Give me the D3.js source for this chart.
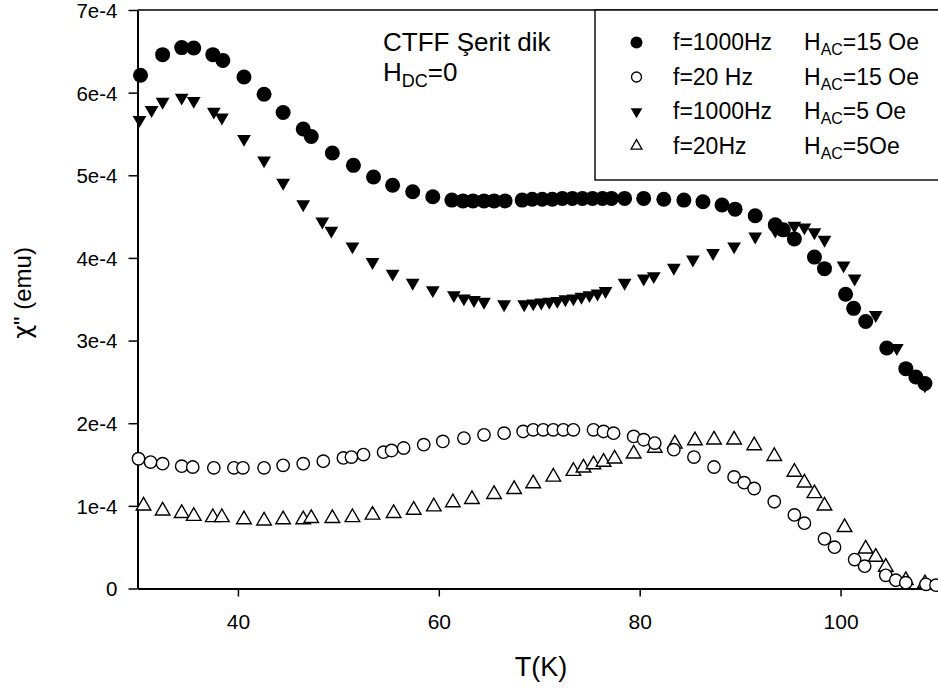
<!DOCTYPE html>
<html>
<head>
<meta charset="utf-8">
<script src="https://cdn.jsdelivr.net/npm/d3@7"></script>
<style>
  html, body { margin: 0; padding: 0; background: #fff; }
  svg { display: block; font-family: "Liberation Sans", Arial, sans-serif; }
</style>
</head>
<body>
<svg id="chart" width="938" height="693"></svg>
<script>
// ---- DATA (chi'' in units of 1e-4 emu) ----
const tA = [30.3, 32.5, 34.4, 35.6, 37.5, 38.5, 40.6, 42.6, 44.5, 46.5, 47.3, 49.4, 51.5, 53.5, 55.4, 57.4, 59.4,
  61.3, 62.4, 63.4, 64.5, 65.5, 66.6, 68.3, 69.3, 70.3, 71.3, 72.3, 73.3, 74.3, 75.3, 76.3, 77.2,
  78.5, 80.4, 82.4, 84.4, 86.3, 88.2, 89.5, 91.5, 93.5, 94.3, 95.4, 97.4, 98.4, 100.5, 101.3, 102.5, 104.6, 106.5, 107.5, 108.4];
const chiA = [6.21, 6.46, 6.545, 6.54, 6.46, 6.39, 6.19, 5.98, 5.76, 5.56, 5.47, 5.27, 5.12, 4.98, 4.88, 4.80, 4.74,
  4.70, 4.69, 4.69, 4.69, 4.69, 4.69, 4.70, 4.71, 4.71, 4.71, 4.72, 4.72, 4.72, 4.72, 4.72, 4.72,
  4.72, 4.72, 4.71, 4.70, 4.68, 4.64, 4.59, 4.51, 4.40, 4.34, 4.23, 4.01, 3.87, 3.56, 3.39, 3.23, 2.91, 2.66, 2.56, 2.48];

const tB = [30.1, 31.3, 32.5, 34.4, 35.5, 37.6, 39.6, 40.5, 42.6, 44.5, 46.5, 48.5, 50.5, 51.3, 52.5, 54.5, 55.3, 56.5,
  58.5, 60.4, 62.5, 64.5, 66.5, 68.4, 69.4, 70.4, 71.4, 72.4, 73.4, 75.4, 76.4, 77.4, 79.4, 80.4, 81.5, 83.4, 85.4,
  87.4, 89.4, 90.4, 91.4, 93.4, 95.4, 96.4, 98.4, 99.4, 101.4, 102.4, 104.5, 105.5, 106.5, 108.5, 109.5];
const chiB = [1.57, 1.53, 1.51, 1.48, 1.47, 1.46, 1.46, 1.46, 1.46, 1.49, 1.51, 1.54, 1.58, 1.59, 1.62, 1.65, 1.67, 1.70,
  1.74, 1.78, 1.82, 1.86, 1.88, 1.90, 1.92, 1.92, 1.92, 1.92, 1.92, 1.92, 1.90, 1.88, 1.84, 1.80, 1.76, 1.68, 1.59,
  1.47, 1.35, 1.28, 1.21, 1.05, 0.89, 0.79, 0.60, 0.50, 0.35, 0.27, 0.16, 0.10, 0.07, 0.05, 0.04];

const tC = [30.2, 31.4, 32.5, 34.4, 35.6, 37.6, 38.4, 40.6, 42.6, 44.5, 46.5, 48.4, 49.3, 51.4, 53.4, 55.4, 57.4, 59.4,
  61.5, 62.5, 63.5, 64.5, 66.5, 68.5, 69.4, 70.2, 71.0, 71.8, 72.6, 73.4, 74.2, 75.0, 75.8, 76.6,
  78.5, 80.4, 81.4, 83.4, 85.3, 87.3, 89.4, 91.5, 93.5, 95.4, 96.4, 97.4, 98.4, 100.3, 101.4, 103.5, 105.6, 108.4];
const chiC = [5.67, 5.79, 5.89, 5.94, 5.90, 5.77, 5.70, 5.44, 5.18, 4.91, 4.65, 4.44, 4.33, 4.14, 3.95, 3.81, 3.70, 3.61,
  3.55, 3.51, 3.49, 3.47, 3.44, 3.44, 3.45, 3.46, 3.47, 3.48, 3.50, 3.51, 3.53, 3.55, 3.57, 3.60,
  3.70, 3.75, 3.78, 3.88, 3.98, 4.06, 4.14, 4.26, 4.33, 4.39, 4.37, 4.31, 4.22, 3.91, 3.75, 3.31, 2.91, 2.46];

const tD = [30.6, 32.5, 34.4, 35.6, 37.5, 38.4, 40.6, 42.6, 44.5, 46.5, 47.3, 49.4, 51.4, 53.4, 55.5, 57.5, 59.5,
  61.4, 63.3, 65.5, 67.5, 69.4, 71.4, 73.4, 74.4, 75.4, 76.4, 77.5, 79.4, 81.5, 83.5, 85.5, 87.4, 89.4, 91.4,
  93.4, 95.4, 96.4, 97.4, 98.4, 100.4, 102.5, 103.5, 104.5, 106.5, 108.4];
const chiD = [1.00, 0.94, 0.91, 0.875, 0.86, 0.86, 0.835, 0.82, 0.835, 0.835, 0.85, 0.85, 0.86, 0.89, 0.91, 0.95, 0.99,
  1.04, 1.08, 1.14, 1.20, 1.27, 1.35, 1.42, 1.46, 1.50, 1.53, 1.57, 1.63, 1.70, 1.75, 1.79, 1.80, 1.80, 1.73,
  1.60, 1.41, 1.28, 1.15, 1.00, 0.74, 0.48, 0.38, 0.26, 0.10, 0.06];

const xTicks = [40, 60, 80, 100];
const yTicks = [0, 1, 2, 3, 4, 5, 6, 7];
const yTickLabels = ["0", "1e-4", "2e-4", "3e-4", "4e-4", "5e-4", "6e-4", "7e-4"];
const legendFreq = ["f=1000Hz", "f=20 Hz", "f=1000Hz", "f=20Hz"];
const legendField = ["=15 Oe", "=15 Oe", "=5 Oe", "=5Oe"];

// ---- LAYOUT ----
const svg = d3.select("#chart");
const L = 137.5, T = 10, B = 588.5, R = 941;
const x = d3.scaleLinear().domain([30, 110]).range([L, R]);
const y = d3.scaleLinear().domain([0, 7]).range([B, T]);

// frame lines (top and right)
svg.append("line").attr("x1", L).attr("x2", R).attr("y1", T).attr("y2", T)
  .attr("stroke", "#000").attr("stroke-width", 1.6);
svg.append("line").attr("x1", R).attr("x2", R).attr("y1", T).attr("y2", B)
  .attr("stroke", "#000").attr("stroke-width", 1.6);

// axes
const gx = svg.append("g").attr("transform", `translate(0,${B})`)
  .call(d3.axisBottom(x).tickValues(xTicks).tickSize(8).tickSizeOuter(0).tickFormat(d3.format("d")));
const gy = svg.append("g").attr("transform", `translate(${L},0)`)
  .call(d3.axisLeft(y).tickValues(yTicks).tickSize(9).tickSizeOuter(0).tickFormat((d, i) => yTickLabels[i]));
[gx, gy].forEach(g => {
  g.select(".domain").attr("stroke-width", 2);
  g.selectAll(".tick line").attr("stroke-width", 1.5);
  g.selectAll("text").attr("fill", "#000").attr("font-family", "Liberation Sans, Arial, sans-serif");
});
gx.selectAll("text").attr("font-size", 21).attr("y", 0).attr("dy", 0)
  .attr("transform", "translate(0,40.5)");
gy.selectAll("text").attr("font-size", 20.5).attr("x", -20).attr("dy", "0.36em");

// axis titles
svg.append("text").attr("x", 541).attr("y", 676).attr("text-anchor", "middle")
  .attr("font-size", 27).text("T(K)");
const yt = svg.append("text").attr("transform", "translate(31,293) rotate(-90)").attr("text-anchor", "middle")
  .attr("font-size", 24);
yt.append("tspan").attr("font-family", "DejaVu Sans, sans-serif").text("\u03C7");
yt.append("tspan").text("\" (emu)");

// annotation
svg.append("text").attr("x", 383).attr("y", 51).attr("font-size", 26).text("CTFF \u015Eerit dik");
const ann = svg.append("text").attr("x", 383).attr("y", 81).attr("font-size", 26);
ann.append("tspan").text("H");
ann.append("tspan").attr("font-size", 18).attr("dy", 6).text("DC");
ann.append("tspan").attr("dy", -6).text("=0");

// markers
const tri = d3.symbol().type(d3.symbolTriangle);
function plot(ts, vs, kind) {
  const data = ts.map((t, i) => [t, vs[i]]);
  const g = svg.append("g");
  if (kind === "fc") {
    g.selectAll("circle").data(data).join("circle")
      .attr("cx", d => x(d[0])).attr("cy", d => y(d[1])).attr("r", 7.5).attr("fill", "#000");
  } else if (kind === "oc") {
    g.selectAll("circle").data(data).join("circle")
      .attr("cx", d => x(d[0])).attr("cy", d => y(d[1])).attr("r", 6.2)
      .attr("fill", "#fff").attr("stroke", "#000").attr("stroke-width", 1.4);
  } else if (kind === "ft") {
    g.selectAll("path").data(data).join("path")
      .attr("d", tri.size(82))
      .attr("transform", d => `translate(${x(d[0])},${y(d[1])}) rotate(180)`).attr("fill", "#000");
  } else {
    g.selectAll("path").data(data).join("path")
      .attr("d", tri.size(92))
      .attr("transform", d => `translate(${x(d[0])},${y(d[1])})`)
      .attr("fill", "#fff").attr("stroke", "#000").attr("stroke-width", 1.4);
  }
}
plot(tD, chiD, "ot");
plot(tB, chiB, "oc");
plot(tC, chiC, "ft");
plot(tA, chiA, "fc");

// legend
svg.append("rect").attr("x", 595).attr("y", T).attr("width", 360).attr("height", 170)
  .attr("fill", "#fff").attr("stroke", "#000").attr("stroke-width", 1.4);
const kinds = ["fc", "oc", "ft", "ot"];
const rowY = [50, 84.5, 119, 153.5];
kinds.forEach((k, i) => {
  const cy = rowY[i] - 7.5, cx = 636.5;
  if (k === "fc") svg.append("circle").attr("cx", cx).attr("cy", cy).attr("r", 6).attr("fill", "#000");
  if (k === "oc") svg.append("circle").attr("cx", cx).attr("cy", cy).attr("r", 5)
    .attr("fill", "#fff").attr("stroke", "#000").attr("stroke-width", 1.3);
  if (k === "ft") svg.append("path").attr("d", tri.size(58))
    .attr("transform", `translate(${cx},${cy}) rotate(180)`).attr("fill", "#000");
  if (k === "ot") svg.append("path").attr("d", tri.size(52))
    .attr("transform", `translate(${cx},${cy})`).attr("fill", "#fff").attr("stroke", "#000").attr("stroke-width", 1.3);
  svg.append("text").attr("x", 673).attr("y", rowY[i]).attr("font-size", 23).text(legendFreq[i]);
  const t = svg.append("text").attr("x", 804).attr("y", rowY[i]).attr("font-size", 23);
  t.append("tspan").text("H");
  t.append("tspan").attr("font-size", 16).attr("dy", 5).text("AC");
  t.append("tspan").attr("dy", -5).text(legendField[i]);
});
</script>
</body>
</html>
